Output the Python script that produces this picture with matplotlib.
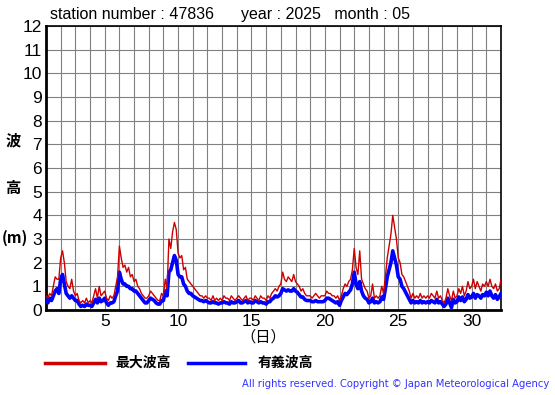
import numpy as np
import matplotlib
matplotlib.use("Agg")
import matplotlib.pyplot as plt

# 3-hourly values, day 1.0 .. 32.0
max_wave = [
    0.6, 0.5, 0.7, 0.6, 1.0, 1.4, 1.3, 1.3,
    2.2, 2.5, 2.0, 1.2, 1.0, 0.9, 1.3, 0.8,
    0.6, 0.7, 0.4, 0.3, 0.4, 0.3, 0.5, 0.3,
    0.4, 0.3, 0.6, 0.9, 0.5, 1.0, 0.6, 0.7,
    0.8, 0.5, 0.4, 0.6, 0.5, 0.6, 1.0, 1.4,
    2.7, 2.2, 1.8, 1.9, 1.6, 1.8, 1.4, 1.5,
    1.2, 1.3, 1.0, 0.9, 0.7, 0.6, 0.5, 0.5,
    0.6, 0.8, 0.7, 0.6, 0.5, 0.4, 0.4, 0.7,
    0.6, 1.3, 0.9, 3.0, 2.6, 3.3, 3.7, 3.4,
    2.4, 2.2, 2.3, 1.7, 1.8, 1.3, 1.2, 1.1,
    1.0, 0.9, 0.8, 0.7, 0.6, 0.6, 0.5, 0.6,
    0.5, 0.5, 0.4, 0.6, 0.4, 0.5, 0.4, 0.5,
    0.4, 0.6, 0.5, 0.5, 0.4, 0.6, 0.5, 0.4,
    0.5, 0.6, 0.5, 0.4, 0.5, 0.6, 0.4, 0.5,
    0.5, 0.4, 0.6, 0.5, 0.4, 0.6, 0.5, 0.5,
    0.4, 0.6, 0.5, 0.7, 0.8, 0.9, 0.8, 1.0,
    1.1, 1.6, 1.3, 1.2, 1.4, 1.3, 1.2, 1.5,
    1.2, 1.1, 1.0, 0.8, 0.9, 0.7, 0.6, 0.6,
    0.6, 0.5, 0.6, 0.7, 0.6, 0.5, 0.6, 0.6,
    0.6, 0.8, 0.7, 0.7, 0.6, 0.6, 0.5, 0.6,
    0.4, 0.6, 0.9, 1.1, 1.0, 1.2, 1.3, 1.7,
    2.6, 1.8, 1.5, 2.5, 1.3, 1.1, 0.9, 0.8,
    0.5, 0.6, 1.1, 0.5, 0.6, 0.5, 0.6, 1.0,
    0.7, 1.4, 2.2, 2.7, 3.2, 4.0, 3.5, 3.0,
    2.2, 2.0, 1.5, 1.4, 1.2, 1.0, 0.8, 0.5,
    0.7, 0.5, 0.6, 0.5, 0.7, 0.5, 0.6, 0.5,
    0.6, 0.5, 0.7, 0.6, 0.5, 0.8, 0.5, 0.6,
    0.4, 0.3, 0.5, 0.9, 0.6, 0.4, 0.8, 0.5,
    0.6, 0.9, 0.7, 1.0, 0.6, 0.8, 1.2, 0.9,
    1.0, 1.3, 0.9, 1.2, 1.0, 0.8, 1.1, 1.0,
    1.2, 1.0, 1.3, 1.0, 0.9, 1.1, 0.8, 0.9,
    1.3,
]
sig_wave = [
    0.4, 0.3, 0.5, 0.4, 0.6, 0.8, 0.9, 0.7,
    1.3, 1.5, 1.1, 0.7, 0.6, 0.5, 0.6, 0.5,
    0.4, 0.4, 0.25, 0.15, 0.2, 0.15, 0.25, 0.2,
    0.2, 0.15, 0.3, 0.45, 0.3, 0.5, 0.35, 0.4,
    0.5, 0.3, 0.2, 0.3, 0.3, 0.35, 0.6, 0.8,
    1.6, 1.3, 1.1, 1.1, 1.0, 1.0, 0.9, 0.9,
    0.8, 0.8, 0.7, 0.6, 0.5, 0.4, 0.3, 0.3,
    0.4, 0.5, 0.45, 0.4, 0.3, 0.25, 0.25, 0.4,
    0.4, 0.8, 0.6, 1.6, 1.7, 2.0, 2.3, 2.1,
    1.5, 1.4, 1.4, 1.1, 1.0, 0.8, 0.7, 0.7,
    0.6, 0.55, 0.5, 0.45, 0.4, 0.4, 0.35, 0.4,
    0.35, 0.3, 0.3, 0.35, 0.3, 0.3, 0.25, 0.3,
    0.3, 0.35, 0.3, 0.3, 0.25, 0.35, 0.3, 0.3,
    0.35, 0.4, 0.3, 0.3, 0.35, 0.4, 0.3, 0.35,
    0.3, 0.3, 0.4, 0.35, 0.3, 0.35, 0.3, 0.3,
    0.25, 0.35, 0.35, 0.45, 0.5, 0.6, 0.55, 0.6,
    0.7, 0.9, 0.85, 0.8, 0.85, 0.8, 0.8, 0.9,
    0.8, 0.75, 0.65, 0.55, 0.55, 0.45, 0.4, 0.4,
    0.4, 0.35, 0.35, 0.4, 0.35, 0.35, 0.35, 0.35,
    0.4, 0.5, 0.5, 0.45, 0.4, 0.35, 0.3, 0.35,
    0.2, 0.4, 0.55, 0.7, 0.65, 0.75, 0.85, 1.1,
    1.6, 1.1, 0.9, 1.2, 0.8, 0.6, 0.5, 0.45,
    0.3, 0.35, 0.5, 0.3, 0.35, 0.3, 0.35, 0.55,
    0.45, 0.9, 1.4, 1.7, 2.0, 2.5, 2.2, 1.9,
    1.4, 1.3, 1.0, 0.9, 0.75, 0.6, 0.45, 0.3,
    0.4, 0.3, 0.35, 0.3, 0.4, 0.3, 0.35, 0.3,
    0.35, 0.3, 0.4, 0.35, 0.3, 0.45, 0.3, 0.35,
    0.25, 0.15, 0.25, 0.5, 0.3, 0.1, 0.45, 0.3,
    0.35, 0.55, 0.4, 0.55, 0.35, 0.45, 0.65, 0.5,
    0.55, 0.7, 0.5, 0.65, 0.6, 0.5, 0.65, 0.6,
    0.75, 0.6, 0.8, 0.6, 0.5, 0.65, 0.45, 0.55,
    0.7,
]
x_ticks = [5, 10, 15, 20, 25, 30]
y_ticks = list(range(0, 13))
title = "station number : 47836      year : 2025   month : 05"
legend_labels = ["最大波高", "有義波高"]

days = 1 + np.arange(len(max_wave)) / 8.0

plt.rcParams['font.family'] = ['Liberation Sans', 'Noto Sans CJK JP', 'DejaVu Sans']
fig = plt.figure(figsize=(5.55, 3.95), dpi=100)
ax = fig.add_axes([46/555, 1-310/395, 455/555, 284/395])

ax.plot(days, sig_wave, color='#0000ff', lw=2.6, zorder=3)
ax.plot(days, max_wave, color='#cc0000', lw=1.0, zorder=4)

ax.set_xlim(1, 32)
ax.set_ylim(0, 12)
ax.set_xticks(np.arange(1, 33), minor=True)
ax.set_xticks(x_ticks)
ax.set_yticks(y_ticks)
ax.grid(True, which='both', color='#808080', lw=0.8)
ax.tick_params(which='both', length=0, labelsize=12.5, pad=3)
for s in ['left', 'bottom']:
    ax.spines[s].set_linewidth(2)
for s in ['top', 'right']:
    ax.spines[s].set_linewidth(1.2)

fig.text(50/555, 1-15/395, title, fontsize=11.5, va='center', ha='left')

jp = ['Noto Sans CJK JP', 'DejaVu Sans']
fig.text(13/555, 1-140/395, "波", fontsize=11, ha='center', va='center', family=jp, weight='bold')
fig.text(13/555, 1-188/395, "高", fontsize=11, ha='center', va='center', family=jp, weight='bold')
fig.text(2/555, 1-238/395, "(m)", fontsize=11, ha='left', va='center', family=jp, weight='bold')
fig.text(263/555, 1-337/395, "（日）", fontsize=11, ha='center', va='center', family=jp)

fig.add_artist(plt.Line2D([45/555, 105/555], [1-363/395]*2, color='#cc0000', lw=2.5))
fig.text(115/555, 1-363/395, legend_labels[0], fontsize=10, ha='left', va='center', family=jp, weight='bold')
fig.add_artist(plt.Line2D([188/555, 245/555], [1-363/395]*2, color='#0000ff', lw=2.5))
fig.text(258/555, 1-363/395, legend_labels[1], fontsize=10, ha='left', va='center', family=jp, weight='bold')

fig.text(549/555, 1-384/395, "All rights reserved. Copyright © Japan Meteorological Agency",
         fontsize=7.2, ha='right', va='center', color='#3333ff', family=['DejaVu Sans'])

fig.savefig("out.png", dpi=100)
